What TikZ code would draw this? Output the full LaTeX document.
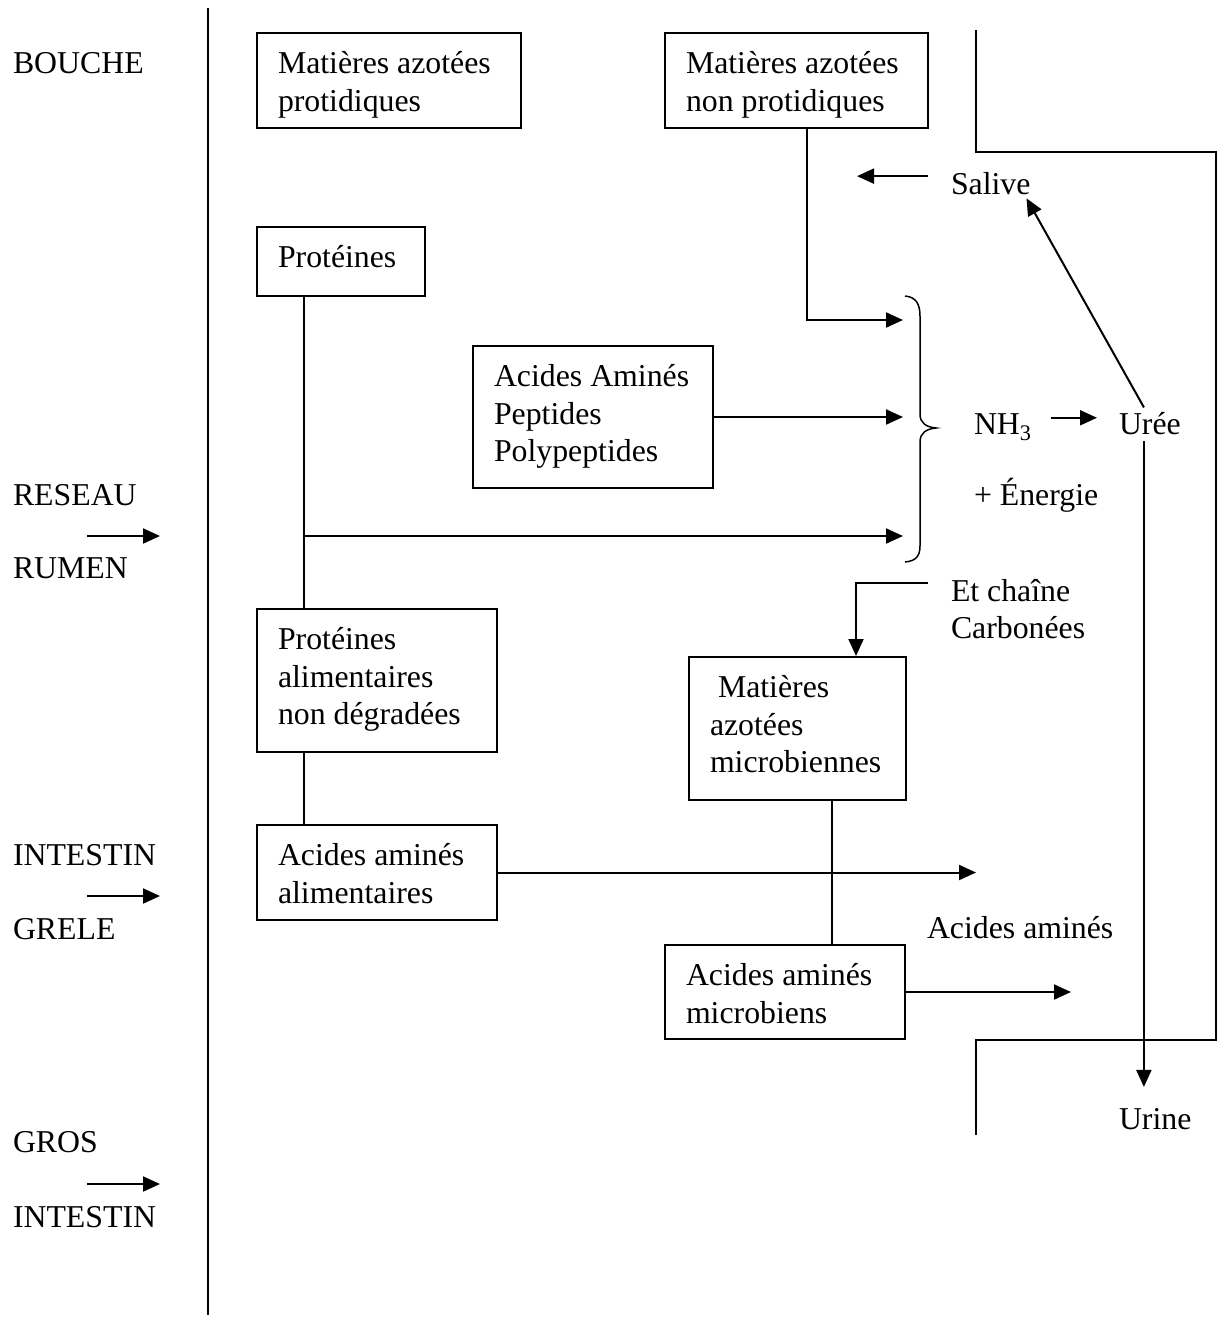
\documentclass[tikz,border=0pt]{standalone}
\usepackage{fontspec}
\setmainfont{Liberation Serif}
\usetikzlibrary{arrows.meta,calc}
\newcommand{\boxtext}[3]{\parbox[c][#1][t]{#2}{\raggedright\rule{0pt}{40.5pt}#3}}
\begin{document}
\begin{tikzpicture}[x=1pt,y=-1pt,line width=2pt,
  every node/.style={font=\fontsize{31.8}{37.5}\selectfont},
  box/.style={draw,rectangle,anchor=north west,inner xsep=21pt,inner ysep=0pt},
  lbl/.style={inner sep=0pt,anchor=base west},
  arr/.style={-{Triangle[length=17pt,width=15pt]}}]
\useasboundingbox (0,0) rectangle (1221,1323);

% left column
\draw (208,8) -- (208,1315);
\node[lbl] (bouche) at (12,73) {BOUCHE};
\node[lbl] (reseau) at (12,505) {RESEAU};
\node[lbl] (rumen) at (12,578) {RUMEN};
\node[lbl] (intestin) at (12,865) {INTESTIN};
\node[lbl] (grele) at (12,939) {GRELE};
\node[lbl] (gros) at (12,1152) {GROS};
\node[lbl] (intestin2) at (12,1227) {INTESTIN};
\coordinate (m1a) at (87,536); \coordinate (m1b) at (160,536);
\coordinate (m2a) at (87,896); \coordinate (m2b) at (160,896);
\coordinate (m3a) at (87,1184); \coordinate (m3b) at (160,1184);
\draw[arr] (m1a) -- (m1b);
\draw[arr] (m2a) -- (m2b);
\draw[arr] (m3a) -- (m3b);

% boxes
\node[box] (b1) at (256,32) {\boxtext{95pt}{222pt}{Matières azotées\\protidiques}};
\node[box] (b2) at (664,32) {\boxtext{95pt}{221pt}{Matières azotées\\non protidiques}};
\node[box] (prot) at (256,226) {\boxtext{69pt}{126pt}{Protéines}};
\node[box] (aap) at (472,345) {\boxtext{142pt}{198pt}{Acides Aminés\\Peptides\\Polypeptides}};
\node[box] (protal) at (256,608) {\boxtext{143pt}{198pt}{Protéines\\alimentaires\\non dégradées}};
\node[box] (micro) at (688,656) {\boxtext{143pt}{175pt}{\hspace*{8pt}Matières\\azotées\\microbiennes}};
\node[box] (aaal) at (256,824) {\boxtext{95pt}{198pt}{Acides aminés\\alimentaires}};
\node[box] (aamic) at (664,944) {\boxtext{94pt}{198pt}{Acides aminés\\microbiens}};

% text labels
\node[lbl] (salive) at (950,194) {Salive};
\node[lbl] (nh3) at (973,434) {NH\textsubscript{3}};
\node[lbl] (uree) at (1118,434) {Urée};
\node[lbl] (energie) at (973,505) {+ Énergie};
\node[lbl] (etch) at (950,601) {Et chaîne};
\node[lbl] (carb) at (950,638) {Carbonées};
\node[lbl] (aatxt) at (926,938) {Acides aminés};
\node[lbl] (urine) at (1118,1129) {Urine};

% brace
\coordinate (bA) at (903,320);
\coordinate (bB) at (903,415);
\coordinate (bC) at (903,536);
\draw[line width=1.5pt] (905,296) .. controls (916,297) and (920,304) .. (920,316)
  -- (920,414) .. controls (920,423) and (926,427) .. (936,428)
  .. controls (926,429) and (920,433) .. (920,442)
  -- (920,546) .. controls (920,556) and (916,561) .. (905,562);

% connectors
\draw[arr] ([xshift=143pt]b2.south west) |- (bA);
\draw[arr] (aap.east) -- (aap.east -| bB);
\draw ([xshift=48pt]prot.south west) -- ([xshift=48pt]protal.north west);
\draw[arr] ([xshift=48pt]prot.south west |- bC) -- (bC);
\draw ([xshift=48pt]protal.south west) -- ([xshift=48pt]aaal.north west);
\draw ([xshift=144pt]micro.south west) -- ([xshift=144pt]micro.south west |- aamic.north);
\coordinate (aaEnd) at (976,871);
\draw[arr] (aaal.east) -- (aaal.east -| aaEnd);
\coordinate (amEnd) at (1071,991);
\draw[arr] (aamic.east) -- (aamic.east -| amEnd);

\draw[arr,shorten <=18pt,shorten >=21pt] ([yshift=9pt]nh3.east) -- ([yshift=9pt]nh3.east -| uree.west);
\draw[arr,shorten <=4pt] ([xshift=-4pt]uree.north) -- ([xshift=-5pt,yshift=-3pt]salive.south east);
\coordinate (salL) at (857,176);
\draw[arr,shorten <=22pt] ([yshift=7pt]salive.west) -- ([yshift=7pt]salive.west -| salL);
\draw[arr,shorten <=6pt,shorten >=20pt] ([xshift=-6pt]uree.south) -- ([xshift=-6pt]uree.south |- urine.north);
\draw[arr,shorten <=22pt] ([yshift=7pt]etch.west) -| ([xshift=168pt]micro.north west);

% right outline
\draw (976,30) -- (976,152) -- (1216,152) -- (1216,1040) -- (976,1040) -- (976,1135);
\end{tikzpicture}
\end{document}
